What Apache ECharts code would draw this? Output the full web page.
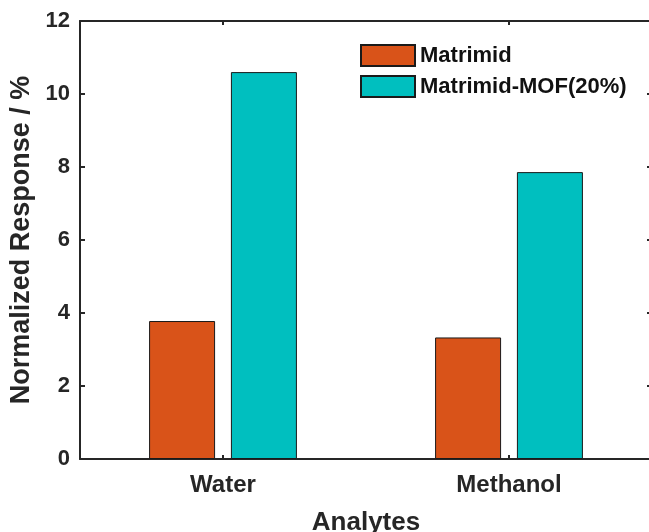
<!DOCTYPE html>
<html>
<head>
<meta charset="utf-8">
<script src="https://cdn.jsdelivr.net/npm/echarts@6/dist/echarts.min.js"></script>
<style>
  html, body { margin: 0; padding: 0; background: #fff; }
  #chart { width: 649px; height: 532px; }
</style>
</head>
<body>
<div id="chart"></div>
<script>
// Analytes and normalized sensor response (%) for each membrane
const analytes = ['Water', 'Methanol'];
const matrimid = [3.78, 3.33];
const matrimidMof = [10.6, 7.86];
const seriesNames = ['Matrimid', 'Matrimid-MOF(20%)'];
const yTicks = { min: 0, max: 12, step: 2 };

const ink = '#262626';
const font = '"Liberation Sans", Arial, Helvetica, sans-serif';

const chart = echarts.init(document.getElementById('chart'), null, { renderer: 'canvas' });

// Shared box-frame styling; onZero off so the top axis stays at the top edge
function frame() {
  return {
    axisLine: { show: true, onZero: false, lineStyle: { color: ink, width: 2 } },
    splitLine: { show: false }
  };
}

chart.setOption({
  animation: false,
  backgroundColor: '#ffffff',
  textStyle: { fontFamily: font },
  grid: { left: 80, right: -3, top: 21, bottom: 73, containLabel: false, outerBoundsMode: 'none' },
  legend: {
    orient: 'vertical',
    left: 360,
    top: 44,
    icon: 'rect',
    itemWidth: 54,
    itemHeight: 21,
    itemGap: 8,
    padding: 0,
    data: seriesNames,
    textStyle: { color: '#111', fontFamily: font, fontWeight: 'bold', fontSize: 22, lineHeight: 21, padding: [0, 0, 0, 0] }
  },
  xAxis: [
    Object.assign({
      type: 'category',
      data: analytes,
      position: 'bottom',
      axisTick: { show: true, inside: true, alignWithLabel: true, length: 4, lineStyle: { color: ink, width: 2 } },
      axisLabel: { color: ink, fontFamily: font, fontWeight: 'bold', fontSize: 24, margin: 14 },
      name: 'Analytes',
      nameLocation: 'middle',
      nameGap: 51,
      nameTextStyle: { color: ink, fontFamily: font, fontWeight: 'bold', fontSize: 26 }
    }, frame()),
    Object.assign({
      type: 'category',
      data: analytes,
      position: 'top',
      axisTick: { show: true, inside: true, alignWithLabel: true, length: 4, lineStyle: { color: ink, width: 2 } },
      axisLabel: { show: false }
    }, frame())
  ],
  yAxis: [
    Object.assign({
      type: 'value',
      min: yTicks.min,
      max: yTicks.max,
      interval: yTicks.step,
      position: 'left',
      axisTick: { show: true, inside: true, length: 5, lineStyle: { color: ink, width: 2 } },
      axisLabel: { color: ink, fontFamily: font, fontWeight: 'bold', fontSize: 22, margin: 10 },
      name: 'Normalized Response / %',
      nameLocation: 'middle',
      nameGap: 42,
      nameTextStyle: { color: ink, fontFamily: font, fontWeight: 'bold', fontSize: 27 }
    }, frame()),
    Object.assign({
      type: 'value',
      min: yTicks.min,
      max: yTicks.max,
      interval: yTicks.step,
      position: 'right',
      axisTick: { show: true, inside: true, length: 5, lineStyle: { color: ink, width: 2 } },
      axisLabel: { show: false }
    }, frame())
  ],
  series: [
    {
      name: seriesNames[0],
      type: 'bar',
      data: matrimid,
      barWidth: 66,
      barGap: '24%',
      itemStyle: { color: '#D95319', borderColor: '#1a1a1a', borderWidth: 1 }
    },
    {
      name: seriesNames[1],
      type: 'bar',
      data: matrimidMof,
      barWidth: 66,
      barGap: '24%',
      itemStyle: { color: '#00BFBF', borderColor: '#1a1a1a', borderWidth: 1 }
    }
  ]
});
</script>
</body>
</html>
